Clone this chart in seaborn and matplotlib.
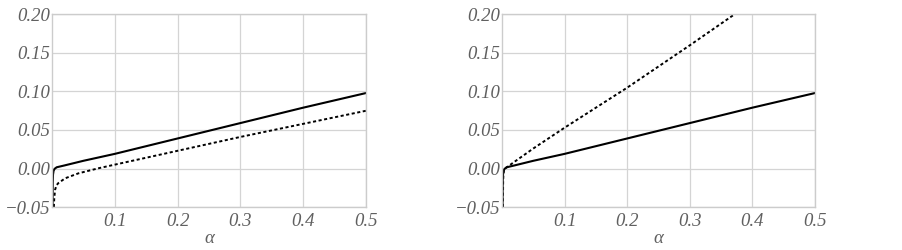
import numpy as np
import pandas as pd
import matplotlib
matplotlib.use("Agg")
import matplotlib.pyplot as plt
import seaborn as sns

# Left panel
left_solid_x = [0.0009, 0.001, 0.0012, 0.0016, 0.0025, 0.004, 0.0075, 0.02, 0.05, 0.1, 0.2, 0.3, 0.4, 0.5]
left_solid_y = [-0.05, -0.035, -0.018, -0.008, -0.003, -0.0005, 0.0016, 0.004, 0.010, 0.019, 0.039, 0.059, 0.079, 0.098]
left_dot_x = [0.003, 0.0035, 0.0048, 0.007, 0.010, 0.021, 0.042, 0.074, 0.1, 0.2, 0.3, 0.4, 0.5]
left_dot_y = [-0.05, -0.04, -0.028, -0.022, -0.019, -0.0127, -0.0063, 0.0003, 0.005, 0.023, 0.041, 0.058, 0.075]

# Right panel
right_solid_x = left_solid_x
right_solid_y = left_solid_y
right_dot_x = [0.0015, 0.0016, 0.0018, 0.0022, 0.003, 0.005, 0.01, 0.05, 0.1, 0.2, 0.3, 0.371]
right_dot_y = [-0.05, -0.035, -0.018, -0.008, -0.003, 0.0, 0.003, 0.026, 0.053, 0.105, 0.160, 0.200]

x_ticks = [0.1, 0.2, 0.3, 0.4, 0.5]
x_labels = ["0.1", "0.2", "0.3", "0.4", "0.5"]
y_ticks = [-0.05, 0.0, 0.05, 0.10, 0.15, 0.20]
y_labels = ["\u22120.05", "0.00", "0.05", "0.10", "0.15", "0.20"]
x_title = "\u03b1"

sns.set_style("white")
plt.rcParams['font.family'] = ['Liberation Serif', 'DejaVu Serif']

fig = plt.figure(figsize=(9.02, 2.5), dpi=100)
W, H = 902, 250
ax1 = fig.add_axes([52 / W, 1 - 207 / H, (366 - 52) / W, (207 - 14.5) / H])
ax2 = fig.add_axes([502 / W, 1 - 207 / H, (815 - 502) / W, (207 - 14.5) / H])

panels = [
    (ax1, left_solid_x, left_solid_y, left_dot_x, left_dot_y),
    (ax2, right_solid_x, right_solid_y, right_dot_x, right_dot_y),
]
tick_color = "#606060"
for ax, sx, sy, dx, dy in panels:
    df_s = pd.DataFrame({"x": sx, "y": sy})
    df_d = pd.DataFrame({"x": dx, "y": dy})
    sns.lineplot(data=df_s, x="x", y="y", ax=ax, color="black", lw=1.5, sort=False)
    sns.lineplot(data=df_d, x="x", y="y", ax=ax, color="black", lw=1.4, sort=False,
                 linestyle=(0, (1.6, 1.3)))
    ax.set_xlim(0, 0.5)
    ax.set_ylim(-0.05, 0.20)
    ax.set_xticks(x_ticks)
    ax.set_xticklabels(x_labels)
    ax.set_yticks(y_ticks)
    ax.set_yticklabels(y_labels)
    ax.grid(True, color="#d4d4d4", lw=0.9)
    ax.set_axisbelow(True)
    for s in ax.spines.values():
        s.set_color("#cccccc")
        s.set_linewidth(1.0)
    ax.tick_params(axis="y", length=0, pad=1, labelsize=13.5, labelcolor=tick_color)
    ax.tick_params(axis="x", length=0, pad=4, labelsize=13.5, labelcolor=tick_color)
    for lab in ax.get_xticklabels() + ax.get_yticklabels():
        lab.set_fontstyle("italic")
    ax.set_xlabel(x_title, fontsize=13.5, color=tick_color, labelpad=0, fontstyle="italic")
    ax.set_ylabel("")

fig.savefig("out.png", dpi=100)
